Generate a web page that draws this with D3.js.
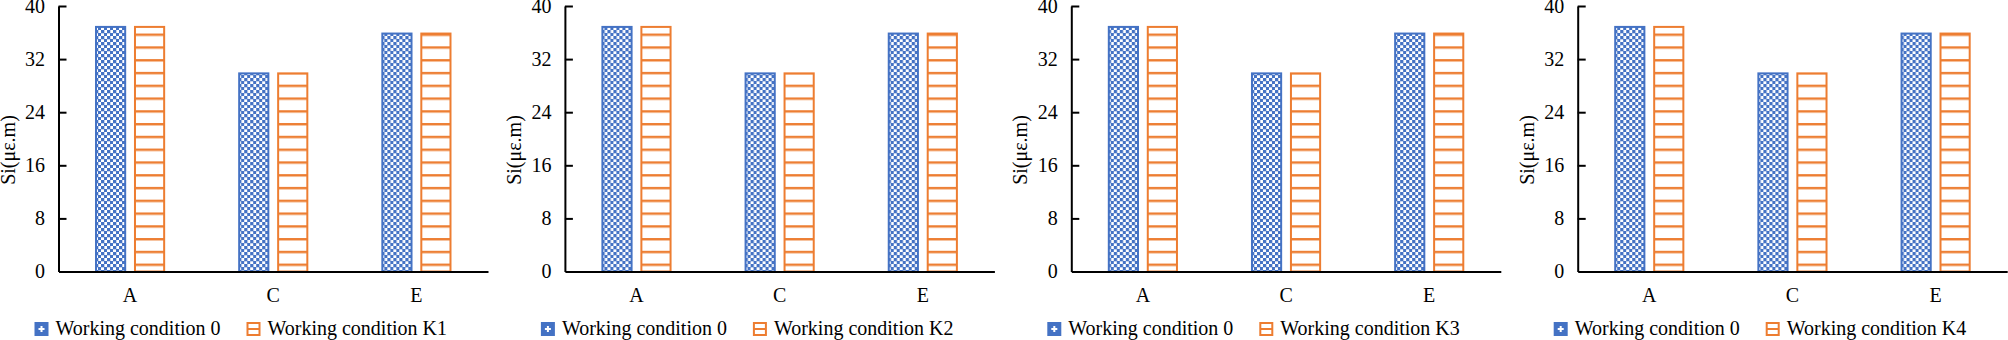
<!DOCTYPE html>
<html>
<head>
<meta charset="utf-8">
<script src="https://cdn.jsdelivr.net/npm/d3@7"></script>
<style>
    body { margin: 0; background: #fff; }
    #chart-area { width: 2008px; height: 340px; }
</style>
</head>
<body>
<div id="chart-area"></div>
<script>

// chart values
const categories = ["A", "C", "E"];
const panelNames = ["K1", "K2", "K3", "K4"];
const baseValues = [37, 30, 36];          // Working condition 0
const panelValues = [
    [37, 30, 36],   // K1
    [37, 30, 36],   // K2
    [37, 30, 36],   // K3
    [37, 30, 36]    // K4
];
const yTicks = [0, 8, 16, 24, 32, 40];
const yLabel = "Si(με.m)";

const blue = "#4472C4";
const orange = "#ED7D31";
const serif = "'Liberation Serif', 'Times New Roman', serif";

class barPanel {

    constructor(svg, index, name, baseData, kData) {
        this.svg = svg;
        this.index = index;
        this.name = name;
        this.baseData = baseData;
        this.kData = kData;

        this.initVis();
    }

    initVis() {
        let vis = this;

        vis.margin = {top: 6, left: 58.5};
        vis.width = 429.5;
        vis.height = 265.5;
        vis.offsetX = vis.index * 506.4;

        vis.panel = vis.svg.append("g")
            .attr("transform", `translate(${vis.offsetX}, 0)`);

        vis.g = vis.panel.append("g")
            .attr("transform", `translate(${vis.margin.left}, ${vis.margin.top})`);

        vis.y = d3.scaleLinear().domain([0, 40]).range([vis.height, 0]);

        vis.x0 = d3.scaleBand()
            .domain(categories)
            .range([0, vis.width])
            .paddingInner(0.51)
            .paddingOuter(0.255);

        vis.x1 = d3.scaleBand()
            .domain(["base", "k"])
            .range([0, vis.x0.bandwidth()])
            .paddingInner(0.2);

        vis.wrangleData();
    }

    wrangleData() {
        let vis = this;
        vis.displayData = categories.map((c, i) => ({
            cat: c,
            bars: [
                {key: "base", value: vis.baseData[i]},
                {key: "k", value: vis.kData[i]}
            ]
        }));
        vis.updateVis();
    }

    updateVis() {
        let vis = this;

        // bars
        let groups = vis.g.selectAll(".cat-group")
            .data(vis.displayData)
            .enter()
            .append("g")
            .attr("class", "cat-group")
            .attr("transform", d => `translate(${vis.x0(d.cat)}, 0)`);

        groups.selectAll("rect")
            .data(d => d.bars)
            .enter()
            .append("rect")
            .attr("x", d => vis.x1(d.key) + 1)
            .attr("y", d => vis.y(d.value) + 1)
            .attr("width", vis.x1.bandwidth() - 2)
            .attr("height", d => vis.height - vis.y(d.value) - 1)
            .attr("fill", d => d.key === "base" ? "url(#pat-check)" : "url(#pat-stripe)")
            .attr("stroke", d => d.key === "base" ? blue : orange)
            .attr("stroke-width", 2);

        // y axis, ticks pointing inward
        let yAxis = d3.axisLeft(vis.y)
            .tickValues(yTicks)
            .tickSizeInner(-8)
            .tickSizeOuter(0)
            .tickPadding(13.5);

        let yg = vis.g.append("g").call(yAxis).attr("font-family", serif).attr("font-size", 20);
        yg.select(".domain").attr("stroke", "#000").attr("stroke-width", 2);
        yg.selectAll(".tick line").attr("stroke", "#000").attr("stroke-width", 2);
        yg.selectAll(".tick text").style("font-family", serif).style("font-size", "20px");
        yg.selectAll(".tick").filter(d => d === 0).select("line").remove();

        // x axis
        let xAxis = d3.axisBottom(vis.x0).tickSize(0).tickPadding(16);
        let xg = vis.g.append("g")
            .attr("transform", `translate(0, ${vis.height})`)
            .call(xAxis)
            .attr("font-family", serif).attr("font-size", 20);
        xg.select(".domain").attr("stroke", "#000").attr("stroke-width", 2);
        xg.selectAll(".tick text").style("font-family", serif).style("font-size", "20px");

        // y label
        vis.panel.append("text")
            .attr("transform", `translate(14.5, 150) rotate(-90)`)
            .attr("text-anchor", "middle")
            .style("font-family", serif)
            .style("font-size", "20px")
            .text(yLabel);

        // legend
        let legendItems = [
            {x: 34.5, fill: "url(#pat-check-leg)", stroke: blue, label: "Working condition 0"},
            {x: 246.5, fill: "url(#pat-stripe-leg)", stroke: orange, label: "Working condition " + vis.name}
        ];
        let leg = vis.panel.selectAll(".legend-item")
            .data(legendItems)
            .enter()
            .append("g")
            .attr("class", "legend-item")
            .attr("transform", d => `translate(${d.x}, 322)`);

        leg.append("rect")
            .attr("x", 1).attr("y", 1)
            .attr("width", 12).attr("height", 12)
            .attr("fill", d => d.fill)
            .attr("stroke", d => d.stroke)
            .attr("stroke-width", 2);

        leg.append("text")
            .attr("x", 21)
            .attr("y", 13)
            .style("font-family", serif)
            .style("font-size", "20px")
            .text(d => d.label);
    }
}

let svg = d3.select("#chart-area").append("svg")
    .attr("width", 2008)
    .attr("height", 340)
    .attr("font-family", serif);

// fill patterns
let defs = svg.append("defs");

let check = defs.append("pattern")
    .attr("id", "pat-check")
    .attr("patternUnits", "userSpaceOnUse")
    .attr("width", 6).attr("height", 6);
check.append("rect").attr("width", 6).attr("height", 6).attr("fill", "#fff");
check.append("rect").attr("x", 0).attr("y", 0).attr("width", 3.3).attr("height", 3.3).attr("fill", blue);
check.append("rect").attr("x", 3).attr("y", 3).attr("width", 3.3).attr("height", 3.3).attr("fill", blue);

let stripe = defs.append("pattern")
    .attr("id", "pat-stripe")
    .attr("patternUnits", "userSpaceOnUse")
    .attr("width", 10).attr("height", 12.78);
stripe.append("rect").attr("width", 10).attr("height", 12.78).attr("fill", "#fff");
stripe.append("rect").attr("y", 2.0).attr("width", 10).attr("height", 2.4).attr("fill", orange);

let checkLeg = defs.append("pattern")
    .attr("id", "pat-check-leg")
    .attr("patternUnits", "userSpaceOnUse")
    .attr("width", 14).attr("height", 14);
checkLeg.append("rect").attr("width", 14).attr("height", 14).attr("fill", blue);
checkLeg.append("rect").attr("x", 4).attr("y", 6).attr("width", 6).attr("height", 2).attr("fill", "#fff");
checkLeg.append("rect").attr("x", 6).attr("y", 4).attr("width", 2).attr("height", 6).attr("fill", "#fff");

let stripeLeg = defs.append("pattern")
    .attr("id", "pat-stripe-leg")
    .attr("patternUnits", "userSpaceOnUse")
    .attr("width", 14).attr("height", 14);
stripeLeg.append("rect").attr("width", 14).attr("height", 14).attr("fill", "#fff");
stripeLeg.append("rect").attr("y", 6).attr("width", 14).attr("height", 2).attr("fill", orange);

panelNames.forEach((name, i) => {
    new barPanel(svg, i, name, baseValues, panelValues[i]);
});

</script>
</body>
</html>
